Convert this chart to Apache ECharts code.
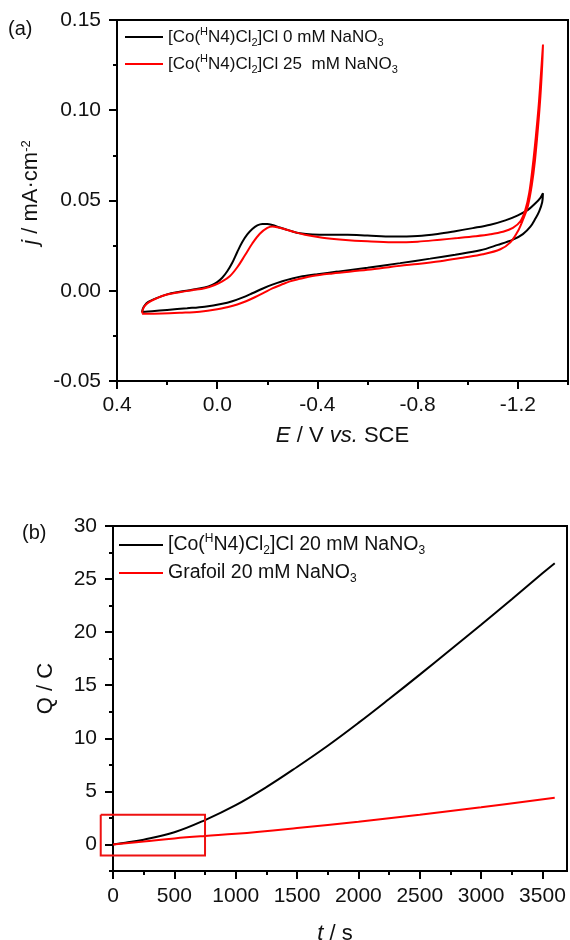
<!DOCTYPE html>
<html>
<head>
<meta charset="utf-8">
<script src="https://cdn.jsdelivr.net/npm/echarts@6/dist/echarts.min.js"></script>
<style>
html,body{margin:0;padding:0;background:#fff;}
#c{width:570px;height:940px;}
</style>
</head>
<body>
<div id="c"></div>
<script>
// ---------- Panel (a): cyclic voltammograms ----------
const seriesNamesA = ['[Co(HN4)Cl2]Cl 0 mM NaNO3', '[Co(HN4)Cl2]Cl 25  mM NaNO3'];
const cvBlackE = [0.300,0.297,0.290,0.275,0.250,0.200,0.150,0.100,0.050,0.020,0.000,-0.020,-0.040,-0.060,-0.080,-0.100,-0.120,-0.140,-0.160,-0.180,-0.200,-0.220,-0.250,-0.290,-0.330,-0.380,-0.450,-0.520,-0.600,-0.700,-0.800,-0.880,-0.950,-1.020,-1.090,-1.150,-1.200,-1.240,-1.270,-1.290,-1.300,
  -1.297,-1.285,-1.270,-1.250,-1.220,-1.180,-1.120,-1.050,-0.950,-0.850,-0.730,-0.600,-0.480,-0.400,-0.340,-0.300,-0.260,-0.220,-0.180,-0.140,-0.100,-0.060,-0.020,0.050,0.120,0.200,0.260,0.300];
const cvBlackJ = [-0.0118,-0.0100,-0.0082,-0.0062,-0.0045,-0.0020,-0.0006,0.0005,0.0018,0.0032,0.0048,0.0072,0.0108,0.0155,0.0215,0.0270,0.0312,0.0342,0.0362,0.0370,0.0370,0.0364,0.0350,0.0333,0.0318,0.0311,0.0310,0.0310,0.0306,0.0301,0.0304,0.0315,0.0330,0.0347,0.0366,0.0390,0.0418,0.0448,0.0485,0.0515,0.0540,
  0.0490,0.0440,0.0400,0.0355,0.0314,0.0283,0.0254,0.0224,0.0200,0.0178,0.0153,0.0128,0.0106,0.0092,0.0080,0.0068,0.0053,0.0034,0.0011,-0.0014,-0.0038,-0.0058,-0.0072,-0.0088,-0.0097,-0.0106,-0.0113,-0.0118];
const cvRedE = [0.300,0.297,0.290,0.275,0.250,0.200,0.150,0.100,0.050,0.010,-0.020,-0.050,-0.080,-0.110,-0.140,-0.170,-0.200,-0.220,-0.240,-0.270,-0.300,-0.350,-0.420,-0.500,-0.600,-0.700,-0.800,-0.890,-0.960,-1.030,-1.090,-1.140,-1.180,-1.210,-1.230,-1.245,-1.260,-1.272,-1.282,-1.290,-1.296,-1.300,
  -1.297,-1.290,-1.280,-1.268,-1.255,-1.240,-1.222,-1.200,-1.170,-1.130,-1.060,-0.980,-0.890,-0.800,-0.730,-0.600,-0.460,-0.380,-0.330,-0.290,-0.255,-0.220,-0.185,-0.150,-0.115,-0.080,-0.040,0.000,0.070,0.150,0.220,0.300];
const cvRedJ = [-0.0126,-0.0105,-0.0085,-0.0066,-0.0047,-0.0021,-0.0008,0.0003,0.0014,0.0032,0.0052,0.0080,0.0130,0.0195,0.0262,0.0316,0.0348,0.0356,0.0352,0.0341,0.0328,0.0310,0.0294,0.0283,0.0274,0.0269,0.0272,0.0283,0.0292,0.0302,0.0313,0.0327,0.0348,0.0385,0.0450,0.0540,0.0700,0.0860,0.1010,0.1160,0.1280,0.1360,
  0.1250,0.1080,0.0900,0.0720,0.0580,0.0470,0.0400,0.0330,0.0268,0.0230,0.0202,0.0183,0.0163,0.0148,0.0139,0.0116,0.0096,0.0082,0.0066,0.0052,0.0033,0.0013,-0.0012,-0.0036,-0.0058,-0.0076,-0.0091,-0.0103,-0.0116,-0.0122,-0.0126,-0.0128];
const aXTicks = [0.4, 0.0, -0.4, -0.8, -1.2];
const aXMinor = [0.2, -0.2, -0.6, -1.0, -1.4];

// ---------- Panel (b): charge vs time ----------
const seriesNamesB = ['[Co(HN4)Cl2]Cl 20 mM NaNO3', 'Grafoil 20 mM NaNO3'];
const tBlack = [0,100,250,500,750,1000,1250,1500,1750,2000,2250,2500,2750,3000,3250,3500,3600];
const qBlack = [0,0.17,0.45,1.15,2.3,3.7,5.4,7.3,9.3,11.45,13.7,16.0,18.35,20.7,23.1,25.55,26.5];
const tRed = [0,250,500,750,1000,1500,2000,2500,3000,3600];
const qRed = [0,0.28,0.57,0.8,1.0,1.55,2.15,2.8,3.5,4.4];
const boxT = [-100, 750, 750, -100, -100];
const boxQ = [2.8, 2.8, -1.05, -1.05, 2.8];
const bXTicks = [0,500,1000,1500,2000,2500,3000,3500];
const bXMinor = [250,750,1250,1750,2250,2750,3250];
const bYTicks = [0,5,10,15,20,25,30];
const bYMinor = [-2.5,2.5,7.5,12.5,17.5,22.5,27.5];

const zip = (a, b) => a.map((v, i) => [v, b[i]]);
const FONT = 'Liberation Sans, Arial, sans-serif';
const TXT = '#111';

function richLabel(name) {
  return name
    .replace('(HN4', '({sup|H}N4')
    .replace('Cl2]', 'Cl{sub|2}]')
    .replace('NO3', 'NO{sub|3}');
}
function legendText(fs, lh) {
  return {
    fontFamily: FONT, fontSize: fs, color: TXT, lineHeight: lh,
    rich: {
      sup: {fontFamily: FONT, fontSize: Math.round(fs * 0.62), color: TXT, verticalAlign: 'top', lineHeight: Math.round(fs * 0.62)},
      sub: {fontFamily: FONT, fontSize: Math.round(fs * 0.62), color: TXT, verticalAlign: 'bottom', lineHeight: Math.round(fs * 0.62)}
    }
  };
}
function mkLegend(name, left, top, w, fs, lh) {
  return {
    data: [name], left: left, top: top, padding: 0, itemGap: 0,
    itemWidth: w, itemHeight: 2, icon: 'rect', selectedMode: false,
    formatter: richLabel, textStyle: legendText(fs, lh)
  };
}
const tickStyle = {color: '#000', width: 2};
const lblBase = {fontFamily: FONT, fontSize: 21, color: TXT};
const minorAxis = (extra) => Object.assign({
  type: 'value',
  axisLine: {show: false, onZero: false}, axisLabel: {show: false}, splitLine: {show: false}
}, extra);

const chart = echarts.init(document.getElementById('c'), null, {renderer: 'canvas'});
chart.setOption({
  animation: false,
  backgroundColor: '#fff',
  title: [
    {text: '(a)', left: 8, top: 19, padding: 0, textStyle: {fontFamily: FONT, fontSize: 20, fontWeight: 'normal', color: TXT}},
    {text: '(b)', left: 22, top: 523, padding: 0, textStyle: {fontFamily: FONT, fontSize: 20, fontWeight: 'normal', color: TXT}}
  ],
  legend: [
    mkLegend(seriesNamesA[0], 125, 26, 38, 17, 22),
    mkLegend(seriesNamesA[1], 125, 53, 38, 17, 22),
    mkLegend(seriesNamesB[0], 119, 533, 44, 19.5, 24),
    mkLegend(seriesNamesB[1], 119, 561, 44, 19.5, 24)
  ],
  grid: [
    {left: 117, top: 20, width: 451, height: 361, show: true, borderColor: '#000', borderWidth: 2, containLabel: false, outerBoundsMode: 'none'},
    {left: 113, top: 526, width: 454, height: 345, show: true, borderColor: '#000', borderWidth: 2, containLabel: false, outerBoundsMode: 'none'}
  ],
  xAxis: [
    {
      gridIndex: 0, type: 'value', inverse: true, min: -1.4, max: 0.4,
      axisLine: {show: true, onZero: false, lineStyle: tickStyle},
      axisTick: {show: true, inside: false, length: 8, lineStyle: tickStyle, customValues: aXTicks},
      axisLabel: Object.assign({customValues: aXTicks, margin: 14, formatter: v => v.toFixed(1)}, lblBase),
      splitLine: {show: false},
      name: '{i|E} / V {i|vs.} SCE', nameLocation: 'middle', nameGap: 44,
      nameTextStyle: {fontFamily: FONT, fontSize: 22, color: TXT, rich: {i: {fontFamily: FONT, fontSize: 22, fontStyle: 'italic', color: TXT}}}
    },
    minorAxis({gridIndex: 0, inverse: true, min: -1.4, max: 0.4, position: 'bottom',
      axisTick: {show: true, inside: false, length: 4, lineStyle: tickStyle, customValues: aXMinor}}),
    {
      gridIndex: 1, type: 'value', min: 0, max: 3700,
      axisLine: {show: true, onZero: false, lineStyle: tickStyle},
      axisTick: {show: true, inside: false, length: 8, lineStyle: tickStyle, customValues: bXTicks},
      axisLabel: Object.assign({customValues: bXTicks, margin: 15, formatter: v => String(v)}, lblBase),
      splitLine: {show: false},
      name: '{i|t} / s', nameLocation: 'middle', nameGap: 52,
      nameTextStyle: {fontFamily: FONT, fontSize: 22, color: TXT, padding: [0, 10, 0, 0], rich: {i: {fontFamily: FONT, fontSize: 22, fontStyle: 'italic', color: TXT}}}
    },
    minorAxis({gridIndex: 1, min: 0, max: 3700, position: 'bottom',
      axisTick: {show: true, inside: false, length: 4, lineStyle: tickStyle, customValues: bXMinor}})
  ],
  yAxis: [
    {
      gridIndex: 0, type: 'value', min: -0.05, max: 0.15, interval: 0.05,
      axisLine: {show: true, onZero: false, lineStyle: tickStyle},
      axisTick: {show: true, inside: false, length: 8, lineStyle: tickStyle},
      minorTick: {show: true, splitNumber: 2, length: 4, lineStyle: tickStyle},
      axisLabel: Object.assign({margin: 16, formatter: v => v.toFixed(2)}, lblBase),
      splitLine: {show: false}, minorSplitLine: {show: false},
      name: '{i|j} / mA·cm{sup|-2}', nameLocation: 'middle', nameGap: 70, nameRotate: 90,
      nameTextStyle: {fontFamily: FONT, fontSize: 22, color: TXT, padding: [0, 0, 0, 16],
        rich: {i: {fontFamily: FONT, fontSize: 22, fontStyle: 'italic', color: TXT}, sup: {fontFamily: FONT, fontSize: 13, color: TXT, verticalAlign: 'top', lineHeight: 13}}}
    },
    {
      gridIndex: 1, type: 'value', min: -2.5, max: 30,
      axisLine: {show: true, onZero: false, lineStyle: tickStyle},
      axisTick: {show: true, inside: false, length: 8, lineStyle: tickStyle, customValues: bYTicks},
      axisLabel: Object.assign({customValues: bYTicks, margin: 16}, lblBase),
      splitLine: {show: false},
      name: 'Q / C', nameLocation: 'middle', nameGap: 56, nameRotate: 90,
      nameTextStyle: {fontFamily: FONT, fontSize: 22, color: TXT, padding: [0, 0, 0, 20]}
    },
    minorAxis({gridIndex: 1, min: -2.5, max: 30, position: 'left',
      axisTick: {show: true, inside: false, length: 4, lineStyle: tickStyle, customValues: bYMinor}})
  ],
  series: [
    {name: seriesNamesA[0], type: 'line', xAxisIndex: 0, yAxisIndex: 0, data: zip(cvBlackE, cvBlackJ),
      symbol: 'none', smooth: 0.35, color: '#000', lineStyle: {color: '#000', width: 2}},
    {name: seriesNamesA[1], type: 'line', xAxisIndex: 0, yAxisIndex: 0, data: zip(cvRedE, cvRedJ),
      symbol: 'none', smooth: 0.35, color: '#ff0000', lineStyle: {color: '#ff0000', width: 2}},
    {name: seriesNamesB[0], type: 'line', xAxisIndex: 2, yAxisIndex: 1, data: zip(tBlack, qBlack),
      symbol: 'none', smooth: 0.4, color: '#000', lineStyle: {color: '#000', width: 2}},
    {name: seriesNamesB[1], type: 'line', xAxisIndex: 2, yAxisIndex: 1, data: zip(tRed, qRed),
      symbol: 'none', smooth: 0.4, color: '#ff0000', lineStyle: {color: '#ff0000', width: 2}}
  ]
});

// Highlight box in panel (b): placed through the chart's own scales
const boxPts = zip(boxT, boxQ).map(p => chart.convertToPixel({xAxisIndex: 2, yAxisIndex: 1}, p));
chart.setOption({
  graphic: [{
    type: 'polyline', z: 100, silent: true,
    shape: {points: boxPts},
    style: {stroke: '#ee1111', lineWidth: 2, fill: null}
  }]
});
</script>
</body>
</html>
